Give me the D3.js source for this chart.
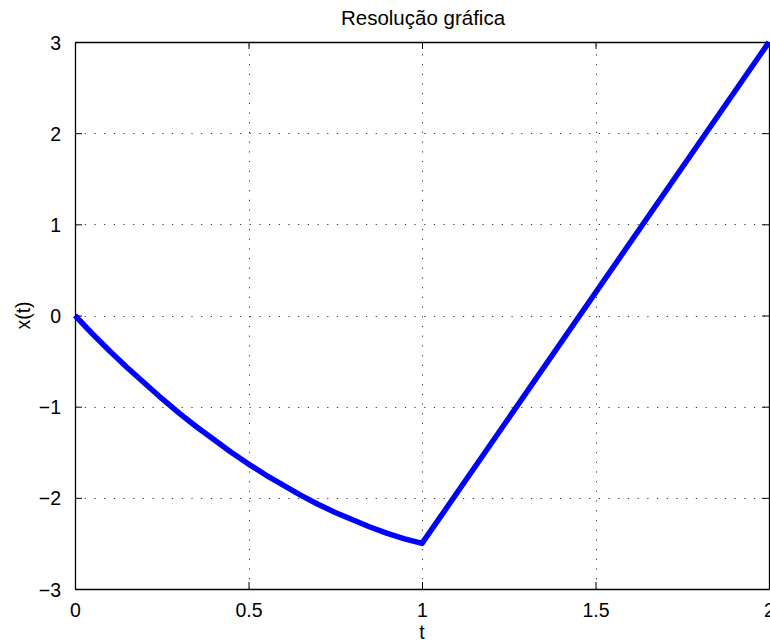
<!DOCTYPE html>
<html><head><meta charset="utf-8">
<script src="https://cdn.jsdelivr.net/npm/d3@7"></script>
<style>
html,body{margin:0;padding:0;background:#fff;overflow:hidden;}
text{font-family:"Liberation Sans",Arial,sans-serif;fill:#000;}
</style></head>
<body><svg id="c" width="770" height="640"></svg>
<script>
const tValues = [0,0.05,0.1,0.15,0.2,0.25,0.3,0.35,0.4,0.45,0.5,0.55,0.6,0.65,0.7,0.75,0.8,0.85,0.9,0.95,1,2];
const xValues = [0,-0.2,-0.39,-0.57,-0.74,-0.91,-1.07,-1.22,-1.36,-1.5,-1.63,-1.75,-1.86,-1.97,-2.07,-2.16,-2.24,-2.32,-2.39,-2.45,-2.5,3];
const xTicks = [0,0.5,1,1.5,2];
const yTicks = [-3,-2,-1,0,1,2,3];
const titleText = "Resolução gráfica";
const xLabelText = "t";
const yLabelText = "x(t)";

const L=75, R=769, T=42, B=589;
const svg = d3.select("#c");
const x = d3.scaleLinear().domain([0,2]).range([L,R]);
const y = d3.scaleLinear().domain([-3,3]).range([B,T]);
const fmt = v => (v<0?"\u2212":"") + Math.abs(v);

// grid
const g = svg.append("g");
g.selectAll(".gx").data(xTicks.slice(1,-1)).join("line")
  .attr("x1",d=>Math.round(x(d))+0.5).attr("x2",d=>Math.round(x(d))+0.5)
  .attr("y1",B).attr("y2",T)
  .attr("stroke","#333").attr("stroke-width",1).attr("stroke-dasharray","1.2,8.5");
g.selectAll(".gy").data(yTicks.slice(1,-1)).join("line")
  .attr("y1",d=>Math.round(y(d))+0.5).attr("y2",d=>Math.round(y(d))+0.5)
  .attr("x1",L).attr("x2",R)
  .attr("stroke","#333").attr("stroke-width",1).attr("stroke-dasharray","1.2,8.5");

// axes with inward ticks
const tl = 7;
const axB = svg.append("g").attr("transform",`translate(0,${B})`)
  .call(d3.axisBottom(x).tickValues(xTicks).tickFormat(fmt).tickSizeInner(-tl).tickSizeOuter(0).tickPadding(14));
const axT = svg.append("g").attr("transform",`translate(0,${T})`)
  .call(d3.axisTop(x).tickValues(xTicks).tickFormat("").tickSizeInner(-tl).tickSizeOuter(0));
const axL = svg.append("g").attr("transform",`translate(${L},0)`)
  .call(d3.axisLeft(y).tickValues(yTicks).tickFormat(fmt).tickSizeInner(-tl).tickSizeOuter(0).tickPadding(14));
const axR = svg.append("g").attr("transform",`translate(${R},0)`)
  .call(d3.axisRight(y).tickValues(yTicks).tickFormat("").tickSizeInner(-tl).tickSizeOuter(0));
[axB,axT,axL,axR].forEach(a=>{
  a.selectAll("path.domain").attr("stroke","#000").attr("stroke-width",1.3);
  a.selectAll(".tick line").attr("stroke","#000").attr("stroke-width",1);
  a.selectAll("text").style("font-family","'Liberation Sans',Arial,sans-serif").style("font-size","19.5px").attr("fill","#000");
});
axL.selectAll("text").attr("dy","0.36em");

// line
const line = d3.line().x((d,i)=>x(tValues[i])).y((d,i)=>y(xValues[i]));
svg.append("path").datum(xValues).attr("d",line)
  .attr("fill","none").attr("stroke","#0000ff").attr("stroke-width",5.5)
  .attr("stroke-linejoin","round").attr("stroke-linecap","butt");

// labels
svg.append("text").attr("x",(L+R)/2+1).attr("y",25).attr("text-anchor","middle")
  .style("font-size","20.5px").text(titleText);
svg.append("text").attr("x",(L+R)/2).attr("y",639).attr("text-anchor","middle")
  .style("font-size","19.5px").text(xLabelText);
svg.append("text").attr("transform",`translate(30,${(T+B)/2}) rotate(-90)`).attr("text-anchor","middle")
  .style("font-size","19.5px").text(yLabelText);
</script></body></html>
